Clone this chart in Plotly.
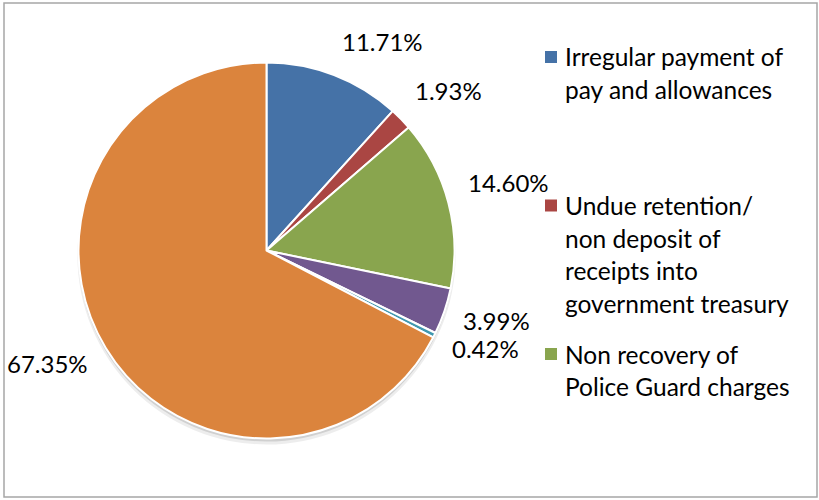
import math
import plotly.graph_objects as go

# ---- data ----
categories = [
    "Irregular payment of pay and allowances",
    "Undue retention/ non deposit of receipts into government treasury",
    "Non recovery of Police Guard charges",
    "Category 4",
    "Category 5",
    "Category 6",
]
values = [11.71, 1.93, 14.60, 3.99, 0.42, 67.35]
value_labels = ["11.71%", "1.93%", "14.60%", "3.99%", "0.42%", "67.35%"]
colors = ["#4572A7", "#AA4643", "#89A54E", "#71588F", "#4198AF", "#DB843D"]
legend_lines = [
    ["Irregular payment of", "pay and allowances"],
    ["Undue retention/", "non deposit of", "receipts into", "government treasury"],
    ["Non recovery of", "Police Guard charges"],
]

# ---- layout constants (pixels) ----
W, H = 819, 500
CX, CY, R = 266.5, 250.5, 188.0
FONT = "Lato"
FS = 24
LEG_FS = 24.5


def px_to_paper(x, y):
    return x / W, 1 - y / H


fig = go.Figure()

# soft shadow under the pie
for dy, extra, op in [(5, 1, 0.07), (3, 0, 0.12)]:
    x0, y0 = px_to_paper(CX - R - extra, CY + dy + R + extra)
    x1, y1 = px_to_paper(CX + R + extra, CY + dy - R - extra)
    fig.add_trace(go.Pie(
        values=[1], marker=dict(colors=[f"rgba(0,0,0,{op})"], line=dict(width=0)),
        textinfo="none", hoverinfo="skip", showlegend=False, sort=False,
        domain=dict(x=[x0, x1], y=[y0, y1]),
    ))

x0, y0 = px_to_paper(CX - R, CY + R)
x1, y1 = px_to_paper(CX + R, CY - R)
fig.add_trace(go.Pie(
    labels=categories, values=values, sort=False, direction="clockwise",
    rotation=0, marker=dict(colors=colors, line=dict(color="white", width=2)),
    textinfo="none", showlegend=False,
    domain=dict(x=[x0, x1], y=[y0, y1]),
))

# value labels placed outside along each slice's mid angle
total = sum(values)
cum = 0.0
annotations = []
for v, lab in zip(values, value_labels):
    mid = (cum + v / 2) / total * 2 * math.pi
    cum += v
    rr = R + 19
    s, c = math.sin(mid), math.cos(mid)
    px = CX + rr * s
    py = CY - rr * c
    xa = "left" if s > 0 else "right"
    if c > 0:
        ya = "bottom"
    else:
        ya = "middle"
        py -= c * 10
    xp, yp = px_to_paper(px, py)
    annotations.append(dict(
        x=xp, y=yp, xref="paper", yref="paper", text=lab, showarrow=False,
        xanchor=xa, yanchor=ya, font=dict(family=FONT, size=FS, color="black"),
        borderpad=0,
    ))

# manual legend (first three entries visible, as in the reference)
shapes = []
LEG_SQ_X = 545
LEG_TX = 564
LEG_Y0 = 57
LEG_PITCH = 148.5
LINE_PITCH = 32.5
for i, lines in enumerate(legend_lines):
    yc = LEG_Y0 + i * LEG_PITCH
    sx0, sy0 = px_to_paper(LEG_SQ_X, yc + 6)
    sx1, sy1 = px_to_paper(LEG_SQ_X + 12, yc - 6)
    shapes.append(dict(type="rect", xref="paper", yref="paper",
                       x0=sx0, y0=sy0, x1=sx1, y1=sy1,
                       fillcolor=colors[i], line=dict(width=0)))
    for j, t in enumerate(lines):
        xp, yp = px_to_paper(LEG_TX, yc + j * LINE_PITCH)
        annotations.append(dict(
            x=xp, y=yp, xref="paper", yref="paper", text=t, showarrow=False,
            xanchor="left", yanchor="middle",
            font=dict(family=FONT, size=LEG_FS, color="black"), borderpad=0,
        ))

# outer chart border
bx0, by0 = px_to_paper(4, 497)
bx1, by1 = px_to_paper(817, 3)
shapes.append(dict(type="rect", xref="paper", yref="paper",
                   x0=bx0, y0=by0, x1=bx1, y1=by1,
                   line=dict(color="#A6A6A6", width=1.5)))

fig.update_layout(
    width=W, height=H, margin=dict(l=0, r=0, t=0, b=0),
    paper_bgcolor="white", plot_bgcolor="white",
    annotations=annotations, shapes=shapes, showlegend=False,
)

fig.write_html("out.html")
